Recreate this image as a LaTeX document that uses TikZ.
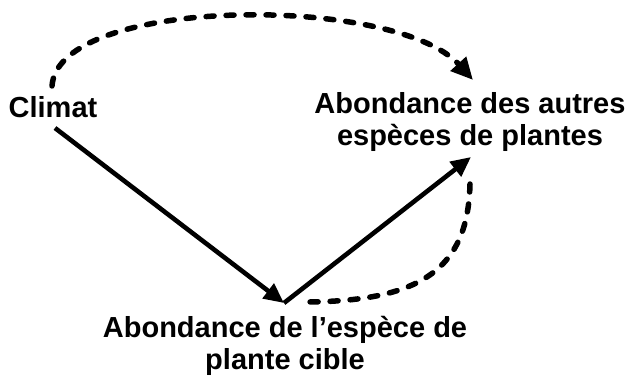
\documentclass[tikz,border=0pt]{standalone}
\usepackage{fontspec}
\setmainfont{Liberation Sans}
\usetikzlibrary{arrows.meta}
\begin{document}
\begin{tikzpicture}[x=1pt,y=-1pt,
  lbl/.style={font=\fontsize{29}{32}\selectfont\bfseries, inner sep=0pt, align=center},
  conn/.style={line width=4.6pt, -{Triangle[length=20pt,width=18pt]}},
  dashconn/.style={line width=5.5pt, line cap=round, dash pattern=on 8pt off 12pt},
]
\useasboundingbox (0,0) rectangle (633,378);
\node[lbl, anchor=base] (climat) at (53,117) {Climat};
\node[lbl] (autres) at (470,122) {Abondance des autres\\espèces de plantes};
\node[lbl] (cible) at (285,345.5) {Abondance de l'espèce de\\plante cible};
\coordinate (c1) at (55,128);
\coordinate (apex) at (284,303);
\coordinate (top) at (471,157);
\coordinate (d0) at (52,86);
\coordinate (d1) at (473,80);
\coordinate (e0) at (470,184);
\coordinate (e1) at (302,302);
\draw[conn] (c1) -- (apex);
\draw[conn] (apex) -- (top);
\draw[dashconn, -{Triangle[length=22pt,width=20pt]}] (d0) .. controls (58,-4) and (395,-6) .. (d1);
\draw[dashconn] (e0) .. controls (468,270) and (420,302) .. (e1);
\end{tikzpicture}
\end{document}
